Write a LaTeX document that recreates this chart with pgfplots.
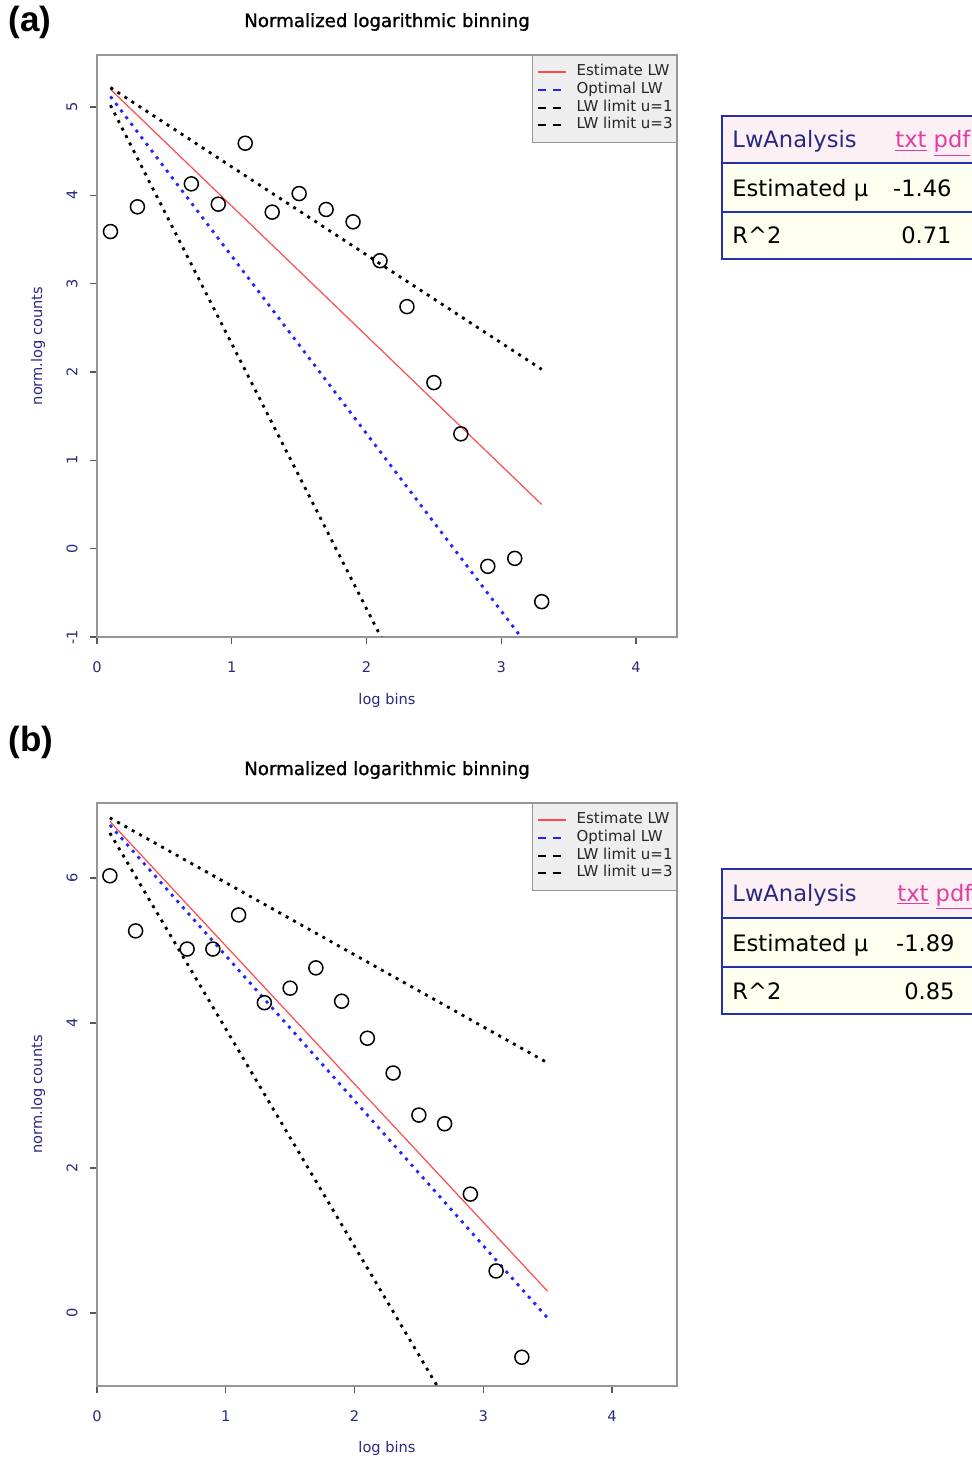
\documentclass[border=0pt]{standalone}
\usepackage{fontspec}
\setmainfont{DejaVu Sans}
\newfontfamily\arialb{Liberation Sans}
\newfontfamily\titlefont[FakeBold=1.2]{DejaVu Sans}
\usepackage{pgfplots}
\usepackage{pgfplotstable}
\pgfplotsset{compat=1.18}
\definecolor{navyl}{RGB}{40,40,130}
\definecolor{rline}{RGB}{255,75,75}
\definecolor{bline}{RGB}{35,35,255}
\definecolor{tblue}{RGB}{35,50,170}
\definecolor{hdrbg}{RGB}{253,240,245}
\definecolor{rowbg}{RGB}{255,255,240}
\definecolor{lnk}{RGB}{225,60,160}
\definecolor{boxgray}{RGB}{150,150,150}

\pgfplotstableread{
x y
0.1 3.59
0.3 3.87
0.7 4.13
0.9 3.90
1.1 4.59
1.3 3.81
1.5 4.02
1.7 3.84
1.9 3.70
2.1 3.26
2.3 2.74
2.5 1.88
2.7 1.30
2.9 -0.20
3.1 -0.11
3.3 -0.60
}\dataA

\pgfplotstableread{
x y
0.1 6.03
0.3 5.27
0.7 5.02
0.9 5.02
1.1 5.49
1.3 4.28
1.5 4.48
1.7 4.76
1.9 4.30
2.1 3.79
2.3 3.31
2.5 2.73
2.7 2.61
2.9 1.64
3.1 0.58
3.3 -0.61
}\dataB

\pgfplotsset{
  every axis title shift=0pt,
  rstyle/.style={
    scale only axis, width=290pt,
    xmin=0,
    axis line style={boxgray, line width=0.7pt},
    tick pos=left, tick align=outside, major tick length=3.5pt,
    every tick/.style={boxgray!60!black, line width=0.6pt},
    tick label style={font=\fontsize{7.3}{8}\selectfont, text=navyl},
    /pgf/number format/assume math mode=true,
    xtick={0,1,2,3,4},
    xticklabel style={anchor=center, yshift=-11.5pt},
    yticklabel style={xshift=-9pt, rotate=90, anchor=center},
    label style={font=\fontsize{7.3}{8}\selectfont, text=navyl},
    title style={font=\titlefont\fontsize{9.1}{10}\selectfont, anchor=center, yshift=-1pt},
    xlabel={log bins}, ylabel={norm.log counts},
    title={Normalized logarithmic binning},
    legend style={at={(1,1)}, anchor=north east, draw=boxgray, fill=gray!13,
      font=\fontsize{7.5}{8.85}\selectfont, text=black!85,
      inner xsep=2pt, inner ysep=4pt, row sep=0pt,
      nodes={inner sep=0pt, text height=6.2pt, text depth=2.65pt},
      /tikz/every odd column/.append style={column sep=5pt}},
    legend cell align=left,
    clip=true,
  },
  dotline/.style={line width=1.4pt, dash pattern=on 1.5pt off 2.7pt},
  dlegend/.style={legend image code/.code={\draw[##1, solid, line width=1pt, dash pattern=on 4pt off 3.5pt] (0pt,0pt)--(14pt,0pt);}},
  slegend/.style={legend image code/.code={\draw[##1, line width=1pt] (0pt,0pt)--(14pt,0pt);}},
  circ/.style={only marks, mark=o, mark size=3.5pt, mark options={line width=0.75pt, black}, forget plot},
}

\begin{document}
\begin{tikzpicture}
\path[use as bounding box] (0pt,0pt) rectangle (486pt,-729.5pt);

% ---------- panel (a) ----------
\node[anchor=west, inner sep=0pt, font=\arialb\bfseries\fontsize{17.5}{20}\selectfont] at (4pt,-11pt) {(a)};
\begin{axis}[rstyle, at={(48.5pt,-318.5pt)}, anchor=south west,
  height=291pt, xmax=4.304, ymin=-1, ymax=5.589,
  ytick={-1,0,1,2,3,4,5},
  title style={at={(axis description cs:0.5,1.0601)}},
  xlabel style={at={(axis description cs:0.5,-0.1082)}, anchor=center},
  ylabel style={at={(axis description cs:-0.1017,0.5)}, anchor=center},
]
\addplot[circ] table[x=x,y=y]{\dataA};
\addplot[rline, line width=0.6pt, slegend] coordinates {(0.1,5.20) (3.3,0.50)};
\addlegendentry{Estimate LW}
\addplot[bline, dotline, dlegend] coordinates {(0.1,5.12) (3.3,-1.31)};
\addlegendentry{Optimal LW}
\addplot[black, dotline, dlegend] coordinates {(0.1,5.22) (3.3,2.03)};
\addlegendentry{LW limit u=1}
\addplot[black, dotline, dlegend] coordinates {(0.1,5.02) (3.3,-4.58)};
\addlegendentry{LW limit u=3}
\end{axis}

% table (a)
\fill[hdrbg] (361pt,-58pt) rectangle (495pt,-81.5pt);
\fill[rowbg] (361pt,-81.5pt) rectangle (495pt,-129.5pt);
\draw[tblue, line width=0.9pt] (495pt,-58pt) -- (361pt,-58pt) -- (361pt,-129.5pt) -- (495pt,-129.5pt);
\draw[tblue, line width=1.2pt] (361pt,-81.5pt) -- (495pt,-81.5pt);
\draw[tblue, line width=0.9pt] (361pt,-106pt) -- (495pt,-106pt);
\begin{scope}[every node/.style={inner sep=0pt, font=\fontsize{11.3}{13}\selectfont}]
\node[anchor=base west, text=navyl] at (366pt,-74pt) {LwAnalysis};
\node[anchor=base west, text=lnk] at (447.5pt,-74pt) {\underline{txt} \underline{pdf}};
\node[anchor=base west] at (366pt,-98.5pt) {Estimated μ};
\node[anchor=base east] at (476pt,-98.5pt) {-1.46};
\node[anchor=base west] at (366pt,-122pt) {R\textasciicircum 2};
\node[anchor=base east] at (476pt,-122pt) {0.71};
\end{scope}

% ---------- panel (b) ----------
\node[anchor=west, inner sep=0pt, font=\arialb\bfseries\fontsize{17.5}{20}\selectfont] at (4pt,-371pt) {(b)};
\begin{axis}[rstyle, at={(48.5pt,-693pt)}, anchor=south west,
  height=291.5pt, xmax=4.505, ymin=-1.007, ymax=7.034,
  ytick={0,2,4,6},
  title style={at={(axis description cs:0.5,1.060)}},
  xlabel style={at={(axis description cs:0.5,-0.1063)}, anchor=center},
  ylabel style={at={(axis description cs:-0.1017,0.5)}, anchor=center},
]
\addplot[circ] table[x=x,y=y]{\dataB};
\addplot[rline, line width=0.6pt, slegend] coordinates {(0.1,6.78) (3.5,0.30)};
\addlegendentry{Estimate LW}
\addplot[bline, dotline, dlegend] coordinates {(0.1,6.73) (3.5,-0.07)};
\addlegendentry{Optimal LW}
\addplot[black, dotline, dlegend] coordinates {(0.1,6.83) (3.5,3.45)};
\addlegendentry{LW limit u=1}
\addplot[black, dotline, dlegend] coordinates {(0.1,6.62) (3.5,-3.58)};
\addlegendentry{LW limit u=3}
\end{axis}

% table (b)
\fill[hdrbg] (361pt,-434.5pt) rectangle (495pt,-459pt);
\fill[rowbg] (361pt,-459pt) rectangle (495pt,-507pt);
\draw[tblue, line width=0.9pt] (495pt,-434.5pt) -- (361pt,-434.5pt) -- (361pt,-507pt) -- (495pt,-507pt);
\draw[tblue, line width=1.2pt] (361pt,-459pt) -- (495pt,-459pt);
\draw[tblue, line width=0.9pt] (361pt,-483.5pt) -- (495pt,-483.5pt);
\begin{scope}[every node/.style={inner sep=0pt, font=\fontsize{11.3}{13}\selectfont}]
\node[anchor=base west, text=navyl] at (366pt,-450.5pt) {LwAnalysis};
\node[anchor=base west, text=lnk] at (448.5pt,-450.5pt) {\underline{txt} \underline{pdf}};
\node[anchor=base west] at (366pt,-475.5pt) {Estimated μ};
\node[anchor=base east] at (477.5pt,-475.5pt) {-1.89};
\node[anchor=base west] at (366pt,-499.5pt) {R\textasciicircum 2};
\node[anchor=base east] at (477.5pt,-499.5pt) {0.85};
\end{scope}
\end{tikzpicture}
\end{document}
